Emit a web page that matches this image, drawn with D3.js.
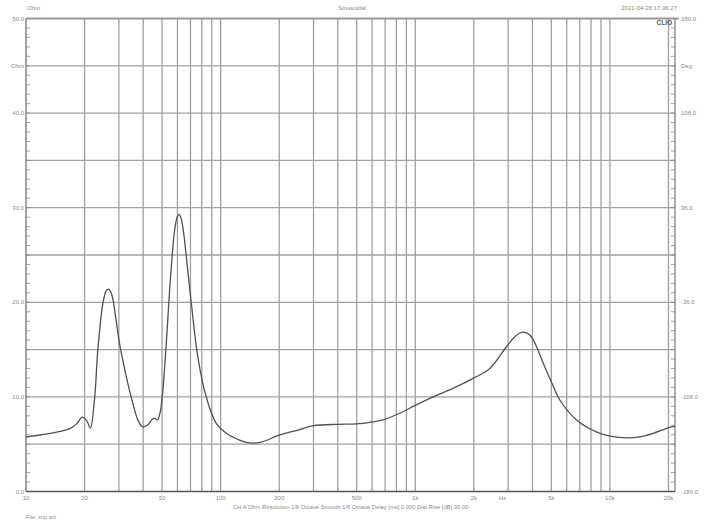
<!DOCTYPE html>
<html><head><meta charset="utf-8">
<script src="https://cdn.jsdelivr.net/npm/d3@7"></script>
<style>body{margin:0;background:#fff;}svg{display:block;font-family:"Liberation Sans",Arial,sans-serif;}</style>
</head><body>
<svg id="c" width="705" height="528"></svg>
<script>
// Impedance curve (Hz, Ohm)
const freqs = [10, 12, 15, 17, 18.3, 19.4, 20.5, 21.4, 22.5, 23.4, 24.8, 25.8, 26.6, 27.6, 28.8, 30.2, 32.8, 35.4, 37.5, 39.6, 42, 44.5, 45.8, 47.3, 48.8, 50.5, 52.5, 54.7, 56.4, 58, 59.8, 61.1, 62.6, 64.5, 66.5, 70.7, 76.3, 84.3, 94.9, 107, 125, 141, 160, 200, 250, 300, 400, 500, 600, 683, 832, 1000, 1236, 1600, 1983, 2415, 2943, 3300, 3580, 3878, 4200, 4542, 5000, 5530, 6743, 8890, 11710, 14000, 16700, 19550, 21600];
const ohms  = [5.76, 6.0, 6.35, 6.7, 7.2, 7.85, 7.5, 6.7, 9.8, 15.0, 19.8, 21.2, 21.4, 20.8, 18.6, 15.7, 12.1, 9.3, 7.6, 6.85, 7.0, 7.6, 7.75, 7.56, 8.3, 10.7, 15.5, 21.3, 25.0, 27.6, 29.0, 29.3, 28.9, 27.4, 25.0, 19.9, 14.25, 10.0, 7.2, 6.15, 5.44, 5.13, 5.2, 5.95, 6.5, 6.96, 7.1, 7.14, 7.35, 7.56, 8.27, 9.1, 10.0, 11.0, 11.96, 13.0, 15.3, 16.5, 16.85, 16.55, 15.3, 13.55, 11.6, 9.67, 7.56, 6.15, 5.69, 5.75, 6.15, 6.68, 6.9];

const xTickVals = [10, 20, 50, 100, 200, 500, 1000, 2000, 5000, 10000, 20000];
const xTickLabels = ["10", "20", "50", "100", "200", "500", "1k", "2k", "5k", "10k", "20k"];
const yLeftVals = [50, 45, 40, 30, 20, 10, 0];
const yLeftLabels = ["50.0", "Ohm", "40.0", "30.0", "20.0", "10.0", "0.0"];
const yRightLabels = ["180.0", "Deg", "108.0", "36.0", "-36.0", "-108.0", "-180.0"];
const gridY = [5, 10, 15, 20, 25, 30, 35, 40, 45];
const minorY = d3.range(1, 50);
const gridMultipliers = [1, 2, 3, 4, 5, 6, 7, 8, 9];
const decades = [10, 100, 1000, 10000];

const svg = d3.select("#c");
const L = 26, R = 675, T = 18.5, B = 491.5;
const x = d3.scaleLog().domain([10, 21600]).range([L, R]);
const y = d3.scaleLinear().domain([0, 50]).range([B, T]);

const gridX = [];
decades.forEach(d => gridMultipliers.forEach(m => { const f = d * m; if (f > 10 && f <= 20000) gridX.push(f); }));

const g = svg.append("g");
g.selectAll("line.vx").data(gridX).join("line")
  .attr("x1", d => x(d)).attr("x2", d => x(d)).attr("y1", T).attr("y2", B)
  .attr("stroke", "#a0a0a0").attr("stroke-width", 1.3);
g.selectAll("line.hy").data(gridY).join("line")
  .attr("x1", L).attr("x2", R).attr("y1", d => y(d)).attr("y2", d => y(d))
  .attr("stroke", "#a0a0a0").attr("stroke-width", 1.3);
g.append("line").attr("x1", L).attr("x2", R + 4).attr("y1", y(50)).attr("y2", y(50))
  .attr("stroke", "#999").attr("stroke-width", 2.2);
g.append("line").attr("x1", L).attr("x2", L).attr("y1", T).attr("y2", B).attr("stroke", "#666").attr("stroke-width", 1.2);
g.append("line").attr("x1", R).attr("x2", R).attr("y1", T).attr("y2", B).attr("stroke", "#777").attr("stroke-width", 1.2);
g.append("line").attr("x1", L).attr("x2", R).attr("y1", B).attr("y2", B).attr("stroke", "#555").attr("stroke-width", 1.4);
g.selectAll("line.ml").data(minorY).join("line")
  .attr("x1", L).attr("x2", L + 4).attr("y1", d => y(d)).attr("y2", d => y(d)).attr("stroke", "#888").attr("stroke-width", 0.8);
g.selectAll("line.mr").data(minorY).join("line")
  .attr("x1", R - 4).attr("x2", R).attr("y1", d => y(d)).attr("y2", d => y(d)).attr("stroke", "#888").attr("stroke-width", 0.8);

const line = d3.line().x((d, i) => x(freqs[i])).y(d => y(d)).curve(d3.curveCatmullRom.alpha(0.5));
svg.append("path").datum(ohms).attr("d", line).attr("fill", "none").attr("stroke", "#505050").attr("stroke-width", 1.3);

const txt = (xx, yy, s, anchor, size, extra) => {
  const t = svg.append("text").attr("x", xx).attr("y", yy).attr("text-anchor", anchor || "start")
    .attr("font-size", size || 6).attr("fill", "#8a8a8a").text(s);
  if (extra) extra(t);
  return t;
};
yLeftVals.forEach((v, i) => txt(L - 2, y(v) + 2, yLeftLabels[i], "end"));
yLeftVals.forEach((v, i) => txt(R + 6, y(v) + 2, yRightLabels[i], "start"));
xTickVals.forEach((v, i) => txt(x(v), 500, xTickLabels[i], "middle"));
txt(x(2800), 500, "Hz", "middle");
txt(L + 1, 10, "Ohm", "start");
txt(352, 10, "Sinusoidal", "middle");
txt(677, 10, "2021-04-28 17.06.27", "end");
txt(R - 3, 25, "CLIO", "end", 6.5, t => t.attr("font-weight", "bold").attr("fill", "#555"));
txt(233, 509, "CH A   Ohm   Resolution 1/6 Octave   Smooth 1/6 Octave   Delay [ms] 0.000   Dist Rise [dB] 30.00", "start", 5.8);
txt(L, 519, "File: imp.sni", "start", 5.6);
</script>
</body></html>
